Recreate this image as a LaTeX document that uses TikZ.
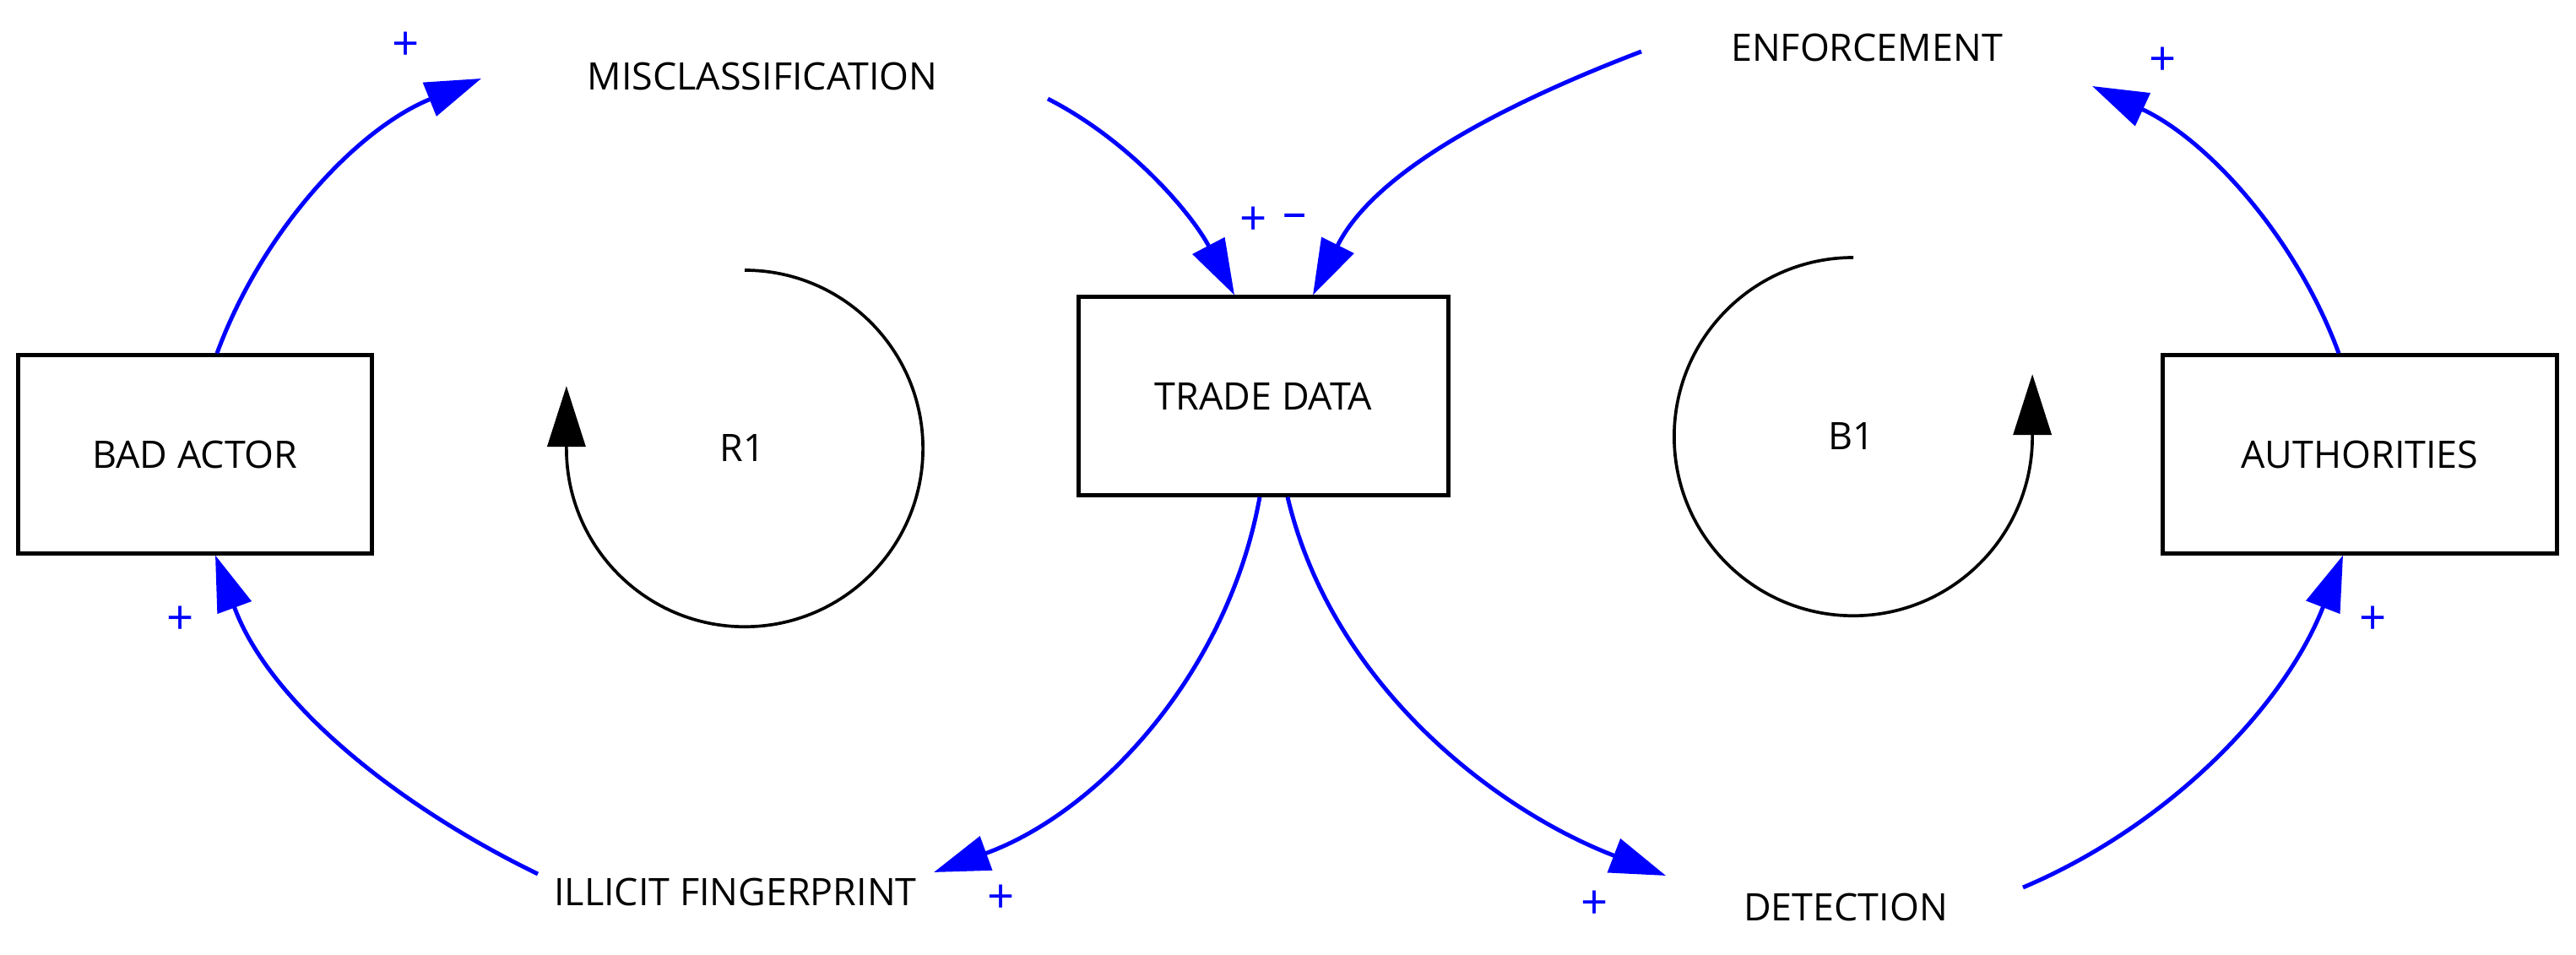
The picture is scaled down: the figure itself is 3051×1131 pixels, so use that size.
\documentclass[tikz,border=0pt]{standalone}
\usepackage{fontspec}
\setmainfont{Open Sans}
\usetikzlibrary{arrows.meta,calc}
\begin{document}
\begin{tikzpicture}[x=0.01cm,y=-0.01cm,
  font=\fontsize{12.75}{15}\selectfont,
  box/.style={draw, line width=1.45pt, minimum height=2.34cm, inner sep=0pt},
  var/.style={anchor=base, inner sep=0pt},
  link/.style={draw=blue, line width=1.4pt, -{Triangle[length=0.66cm,width=0.42cm]}},
  pol/.style={text=blue, inner sep=0pt, font=\fontsize{16}{18}\selectfont},
  loopsym/.style={line width=1.05pt, -{Triangle[length=0.72cm,width=0.45cm]}}]
\useasboundingbox (0,0) rectangle (3051,1131);
\fill[white] (0,0) rectangle (3051,1131);

% stocks
\node[box, minimum width=4.18cm] (bad) at (231,538) {BAD ACTOR};
\node[box, minimum width=4.37cm] (trade) at (1496.5,469) {TRADE DATA};
\node[box, minimum width=4.66cm] (auth) at (2795,538) {AUTHORITIES};

% variables
\node[var] (misc) at (903,107) {MISCLASSIFICATION};
\node[var] (enf) at (2211,73) {ENFORCEMENT};
\node[var] (illicit) at (871,1072) {ILLICIT FINGERPRINT};
\node[var] (det) at (2186,1090) {DETECTION};

% free ends near the variables
\coordinate (miscIn) at (570,93);
\coordinate (miscOut) at (1241,117);
\coordinate (enfOut) at (1944,61);
\coordinate (enfIn) at (2478,102);
\coordinate (illIn) at (1106,1033);
\coordinate (illOut) at (637,1035);
\coordinate (detIn) at (1973,1037);
\coordinate (detOut) at (2396,1051);

% links
\draw[link] ($(bad.north)+(26,0)$) .. controls (311,272) and (424,152) .. (miscIn);
\draw[link] (miscOut) .. controls (1339,167) and (1412,254) .. ($(trade.north)+(-34.5,0)$);
\draw[link] (enfOut) .. controls (1787,121) and (1629,201) .. ($(trade.north)+(58.5,0)$);
\draw[link] ($(auth.north)+(-25,0)$) .. controls (2719,280) and (2614,165) .. (enfIn);
\draw[link] ($(trade.south)+(-4.5,0)$) .. controls (1455,794) and (1304,961) .. (illIn);
\draw[link] (illOut) .. controls (470,954) and (319,832) .. ($(bad.south)+(24,0)$);
\draw[link] ($(trade.south)+(28.5,0)$) .. controls (1576,805) and (1763,956) .. (detIn);
\draw[link] (detOut) .. controls (2571,977) and (2707,834) .. ($(auth.south)+(-20,0)$);

% polarities
\node[pol] (s1) at (481,55) {+};
\node[pol] (s2) at (1485,262) {+};
\node[pol] (s3) at (1534,262) {–};
\node[pol] (s4) at (2562,73) {+};
\node[pol] (s5) at (1186,1065) {+};
\node[pol] (s6) at (214,735) {+};
\node[pol] (s7) at (1889,1072) {+};
\node[pol] (s8) at (2811,735) {+};

% loop symbols
\draw[loopsym] (882,320) arc[start angle=90, end angle=-180, radius=2.11cm] -- ++(0,-74);
\node[var] (r1) at (879,547) {R1};
\draw[loopsym] (2195,305) arc[start angle=90, end angle=360, radius=2.12cm] -- ++(0,-74);
\node[var] (b1) at (2193,533) {B1};
\end{tikzpicture}
\end{document}
